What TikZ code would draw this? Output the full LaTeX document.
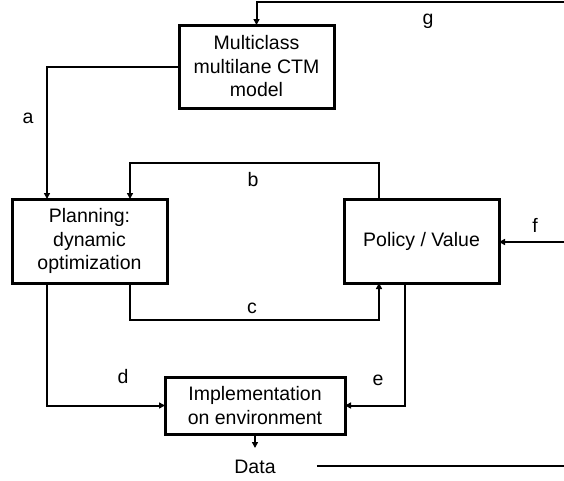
\documentclass[tikz,border=0pt]{standalone}
\usepackage{fontspec}
\setmainfont{Liberation Sans}
\usetikzlibrary{arrows.meta,calc}
\begin{document}
\begin{tikzpicture}[x=1pt,y=-1pt,
 box/.style={draw,line width=3pt,inner sep=0pt,outer sep=0pt,align=center,font=\fontsize{19.5}{23.5}\selectfont},
 conn/.style={line width=2pt},
 arr/.style={conn,-{Triangle[length=6pt,width=6pt]}},
 lbl/.style={font=\fontsize{19.5}{23.5}\selectfont,inner sep=0pt}]
\useasboundingbox (0,0) rectangle (564,480);
\node[box,minimum width=155pt,minimum height=83pt] (mc) at (256.5,66.5) {Multiclass\\multilane CTM\\model};
\node[box,minimum width=155pt,minimum height=84pt] (plan) at (89.5,241) {Planning:\\dynamic\\optimization};
\node[box,minimum width=155pt,minimum height=84pt] (pol) at (421.5,241) {Policy / Value};
\node[box,minimum width=180pt,minimum height=57pt] (impl) at (255,405.5) {Implementation\\on environment};
\node[lbl] (data) at (255,467) {Data};
\coordinate (gR) at (564,2);
\coordinate (fR) at (564,242);
\coordinate (dR) at (564,466);
% g
\draw[arr] (gR) -- (mc.north |- gR) -- (mc.north);
% a
\draw[arr] (mc.west) -| ([xshift=35pt]plan.north west);
% b
\draw[arr] ([xshift=35pt]pol.north west) -- ++(0,-36) -| ([xshift=118pt]plan.north west);
% c
\draw[arr] ([xshift=118pt]plan.south west) -- ++(0,37) -| ([xshift=35pt]pol.south west);
% d
\draw[arr] ([xshift=35pt]plan.south west) |- (impl.west);
% e
\draw[arr] ([xshift=61pt]pol.south west) |- (impl.east);
% f
\draw[arr] (fR) -- (pol.east |- fR);
% data
\draw[arr] (impl.south) -- ($(data.north)+(0,-12)$);
\draw[conn] ([xshift=41pt]data.east |- dR) -- (dR);
% labels
\node[lbl] (la) at (28,118) {a};
\node[lbl] (lb) at (253,180) {b};
\node[lbl] (lc) at (252,308) {c};
\node[lbl] (ld) at (123,377) {d};
\node[lbl] (le) at (378,380) {e};
\node[lbl] (lf) at (535,225) {f};
\node[lbl] (lg) at (428,21) {g};
\end{tikzpicture}
\end{document}
